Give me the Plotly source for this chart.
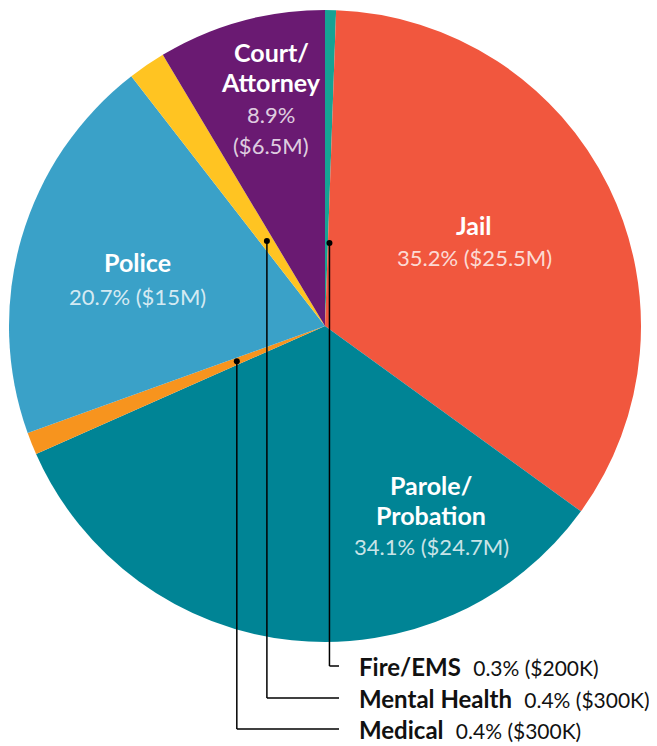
import math
import plotly.graph_objects as go

# the page body keeps an 8px margin, so the figure is drawn 8px in from the window corner
OFF = 8
W, H = 657 - OFF, 746 - OFF

# slices, clockwise from 12 o'clock (sizes as drawn)
names = ['Fire/EMS', 'Jail', 'Parole/Probation', 'Medical', 'Police', 'Mental Health', 'Court/Attorney']
values = [0.56, 34.42, 33.39, 1.14, 20.0, 1.92, 8.58]
colors = ['#16A294', '#F1573E', '#008495', '#F7941E', '#3AA1C8', '#FFC422', '#6A1A72']

# label text as printed
pcts = ['0.3%', '35.2%', '34.1%', '0.4%', '20.7%', '0.4%', '8.9%']
amounts = ['$200K', '$25.5M', '$24.7M', '$300K', '$15M', '$300K', '$6.5M']

FONT = 'Lato'
cx, cy, R = 325, 326, 316   # window pixels


def px(x, y):
    return (x - OFF) / W, 1 - (y - OFF) / H


dx0, dy1 = px(cx - R, cy + R)
dx1, dy0 = px(cx + R, cy - R)

fig = go.Figure(go.Pie(
    labels=names,
    values=values,
    marker=dict(colors=colors, line=dict(width=0)),
    sort=False,
    direction='clockwise',
    rotation=0,
    textinfo='none',
    hoverinfo='label',
    domain=dict(x=[dx0, dx1], y=[dy1, dy0]),
))

annotations = []
sub = 'rgba(255,255,255,0.8)'


def inside(x, rows):
    for y, txt, bold in rows:
        ax, ay = px(x, y)
        annotations.append(dict(
            x=ax, y=ay, xref='paper', yref='paper', showarrow=False,
            text=f'<b>{txt}</b>' if bold else txt,
            font=dict(family=FONT, size=25 if bold else 22, color='white' if bold else sub),
            xanchor='center', yanchor='middle'))


inside(474, [(225, 'Jail', True), (257, f'{pcts[1]} ({amounts[1]})', False)])
inside(431, [(485, 'Parole/', True), (515, 'Probation', True), (546, f'{pcts[2]} ({amounts[2]})', False)])
inside(137, [(262, 'Police', True), (296, f'{pcts[4]} ({amounts[4]})', False)])
inside(271, [(52, 'Court/', True), (82, 'Attorney', True), (115, pcts[6], False), (145, f'({amounts[6]})', False)])

# small slices with leader lines
total = sum(values)
starts = [sum(values[:i]) for i in range(len(values))]
shapes = []
callouts = [(0, 83, 666), (5, 103, 698), (3, 95, 729)]
for idx, r, ly in callouts:
    ang = (starts[idx] + values[idx] / 2) / total * 2 * math.pi
    dx = cx + r * math.sin(ang) + (3 if idx == 0 else 0)
    dy = cy - r * math.cos(ang)
    x0, y0 = px(dx, dy)
    x1, y1 = px(dx, ly)
    x2, _ = px(339, ly)
    shapes.append(dict(type='line', xref='paper', yref='paper', x0=x0, y0=y0, x1=x1, y1=y1,
                       line=dict(color='black', width=1.5)))
    shapes.append(dict(type='line', xref='paper', yref='paper', x0=x1, y0=y1, x1=x2, y1=y1,
                       line=dict(color='black', width=1.5)))
    a0, b0 = px(dx - 3, dy - 3)
    a1, b1 = px(dx + 3, dy + 3)
    shapes.append(dict(type='circle', xref='paper', yref='paper', x0=a0, y0=b0, x1=a1, y1=b1,
                       fillcolor='black', line=dict(width=0)))
    tx, ty = px(357, ly)
    annotations.append(dict(
        x=tx, y=ty, xref='paper', yref='paper', showarrow=False,
        text=f'<b>{names[idx]}</b>  <span style="font-size:21px">{pcts[idx]} ({amounts[idx]})</span>',
        font=dict(family=FONT, size=24, color='#111111'),
        xanchor='left', yanchor='middle'))

fig.update_layout(
    width=W, height=H,
    margin=dict(l=0, r=0, t=0, b=0),
    paper_bgcolor='white',
    showlegend=False,
    annotations=annotations,
    shapes=shapes,
)

fig.write_html('out.html')
